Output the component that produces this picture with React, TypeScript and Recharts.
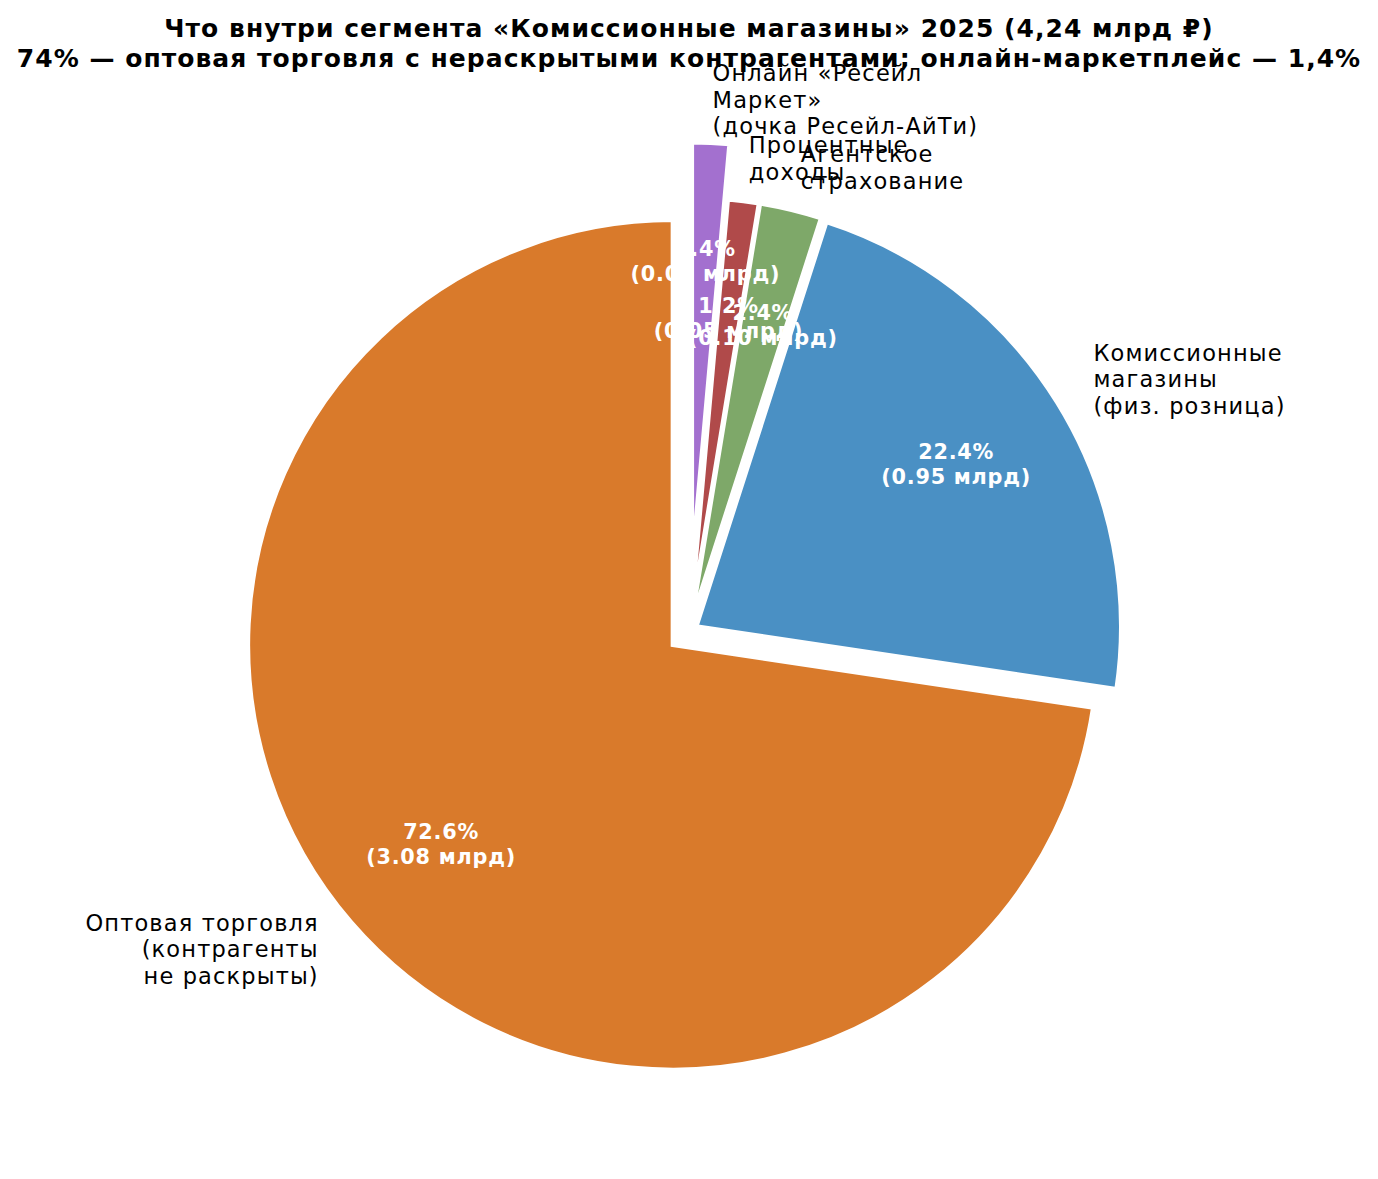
import React from "react";
import { PieChart, Pie, Cell } from "recharts";

// ---- data ----
const sliceNames = [
  "Оптовая торговля\n(контрагенты\nне раскрыты)",
  "Комиссионные\nмагазины\n(физ. розница)",
  "Агентское\nстрахование",
  "Процентные\nдоходы",
  "Онлайн «Ресейл\nМаркет»\n(дочка Ресейл-АйТи)",
];
const sliceValues = [3.08, 0.95, 0.1, 0.05, 0.06]; // млрд ₽
const sliceColors = ["#D97A2B", "#4A90C4", "#7EA869", "#B04A4A", "#A370CF"];
const explode = [0.05, 0.02, 0.02, 0.02, 0.15];
const titleLines = [
  "Что внутри сегмента «Комиссионные магазины» 2025 (4,24 млрд ₽)",
  "74% — оптовая торговля с нераскрытыми контрагентами; онлайн-маркетплейс — 1,4%",
];

// ---- layout ----
const W = 1378;
const H = 1179;
const CX = 689;
const CY = 631;
const R = 425;
const START = 90;
const FONT = "DejaVu Sans";
const NAME_SIZE = 22.5;
const NAME_LS = 1.15;
const NAME_LINE = 26.8;
const PCT_SIZE = 20.8;
const PCT_LS = 0.75;
const PCT_LINE = 25;
const TITLE_SIZE = 25;
const TITLE_LS = 1.03;
const RAD = Math.PI / 180;

const data = sliceNames.map((name, i) => ({ name, value: sliceValues[i] }));
const total = sliceValues.reduce((a, b) => a + b, 0);
const midAngles: number[] = [];
{
  let acc = START;
  sliceValues.forEach((v) => {
    const span = (v / total) * 360;
    midAngles.push(acc + span / 2);
    acc += span;
  });
}

function multiLine(
  lines: string[],
  x: number,
  yc: number,
  size: number,
  lineH: number,
  ls: number,
  anchor: string,
  props: any
) {
  const y0 = yc - ((lines.length - 1) * lineH) / 2 + 0.33 * size;
  return (
    <text
      x={x}
      y={y0}
      textAnchor={anchor}
      fontFamily={FONT}
      fontSize={size}
      letterSpacing={ls}
      {...props}
    >
      {lines.map((l, j) => (
        <tspan key={j} x={x} y={y0 + j * lineH}>
          {l}
        </tspan>
      ))}
    </text>
  );
}

const renderLabel = (p: any) => {
  const i = p.index;
  const a = p.midAngle * RAD;
  const r = p.outerRadius;
  const ox = p.cx + explode[i] * r * Math.cos(a);
  const oy = p.cy - explode[i] * r * Math.sin(a);
  const nx = ox + 1.1 * r * Math.cos(a);
  const ny = oy - 1.1 * r * Math.sin(a);
  const px = ox + 0.72 * r * Math.cos(a);
  const py = oy - 0.72 * r * Math.sin(a);
  const v = sliceValues[i];
  const pct = (v / total) * 100;
  return (
    <g key={`lbl-${i}`}>
      {multiLine(
        sliceNames[i].split("\n"),
        nx,
        ny,
        NAME_SIZE,
        NAME_LINE,
        NAME_LS,
        nx > p.cx ? "start" : "end",
        { fill: "#000" }
      )}
      {multiLine(
        [`${pct.toFixed(1)}%`, `(${v.toFixed(2)} млрд)`],
        px,
        py,
        PCT_SIZE,
        PCT_LINE,
        PCT_LS,
        "middle",
        { fill: "#fff", fontWeight: "bold" }
      )}
    </g>
  );
};

export default function App() {
  return (
    <div
      style={{
        position: "absolute",
        left: 0,
        top: 0,
        width: W,
        height: H,
        background: "#fff",
      }}
    >
      <PieChart
        width={W}
        height={H}
        margin={{ top: 0, right: 0, bottom: 0, left: 0 }}
      >
        {data.map((_, k) => {
          const a = midAngles[k] * RAD;
          const d = explode[k] * R;
          return (
            <Pie
              key={`pie-${k}`}
              data={data}
              dataKey="value"
              nameKey="name"
              cx={CX + d * Math.cos(a)}
              cy={CY - d * Math.sin(a)}
              innerRadius={0}
              outerRadius={R}
              startAngle={START}
              endAngle={START + 360}
              isAnimationActive={false}
              label={false}
              labelLine={false}
            >
              {data.map((__, i) => (
                <Cell
                  key={i}
                  fill={i === k ? sliceColors[i] : "none"}
                  stroke={i === k ? "#fff" : "none"}
                  strokeWidth={i === k ? 4.5 : 0}
                />
              ))}
            </Pie>
          );
        })}
        <Pie
          key="labels"
          data={data}
          dataKey="value"
          nameKey="name"
          cx={CX}
          cy={CY}
          innerRadius={0}
          outerRadius={R}
          startAngle={START}
          endAngle={START + 360}
          isAnimationActive={false}
          labelLine={false}
          label={renderLabel}
        >
          {data.map((__, i) => (
            <Cell key={i} fill="none" stroke="none" />
          ))}
        </Pie>
      </PieChart>
      <svg
        width={W}
        height={90}
        style={{ position: "absolute", left: 0, top: 0, pointerEvents: "none" }}
      >
        {titleLines.map((t, j) => (
          <text
            key={j}
            x={W / 2}
            y={36.5 + j * 30}
            textAnchor="middle"
            fontFamily={FONT}
            fontWeight="bold"
            fontSize={TITLE_SIZE}
            letterSpacing={TITLE_LS}
            fill="#000"
          >
            {t}
          </text>
        ))}
      </svg>
    </div>
  );
}
